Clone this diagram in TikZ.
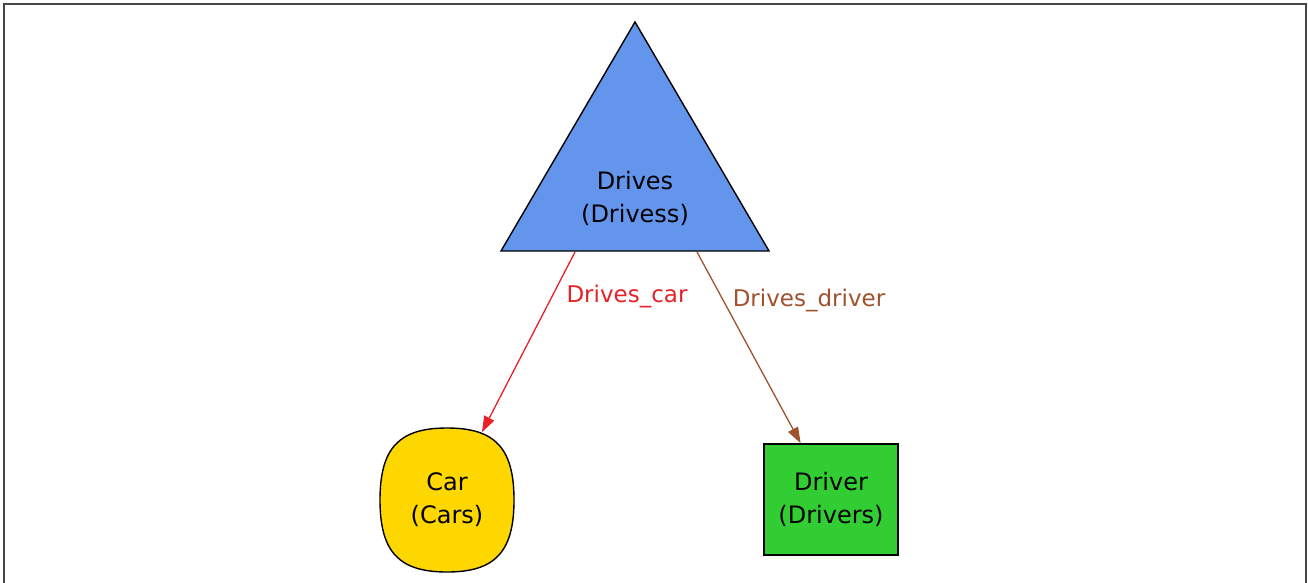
\documentclass[tikz,border=0pt]{standalone}
\usepackage{fontspec}
\setmainfont{DejaVu Sans}
\usetikzlibrary{arrows.meta}
\definecolor{triblue}{RGB}{100,149,237}
\definecolor{cargold}{RGB}{255,215,0}
\definecolor{drvgreen}{RGB}{50,205,50}
\definecolor{edgered}{RGB}{232,32,40}
\definecolor{edgebrown}{RGB}{160,82,45}
\definecolor{framegray}{RGB}{70,70,70}
\begin{document}
\begin{tikzpicture}[x=1pt,y=-1pt,
  lbl/.style={font=\fontsize{24}{33}\selectfont, align=center, inner sep=0pt},
  entity/.style={draw=black, line width=1.4pt, lbl},
  shapeline/.style={draw=black, line width=1.4pt},
  conn/.style={line width=1.3pt, -{Triangle[length=16pt,width=11pt]}},
  elabel/.style={font=\fontsize{23}{28}\selectfont, inner sep=0pt}]
\useasboundingbox (0,0) rectangle (1308,583);
% frame
\draw[framegray, line width=2pt] (4,584) -- (4,4.5) -- (1306,4.5) -- (1306,584);
% relationship triangle
\draw[shapeline, fill=triblue, line join=miter] (501,251) -- (635,22) -- (769,251) -- cycle;
\coordinate (d1) at (575,252);
\coordinate (d2) at (697,252);
\node[lbl] (drives) at (635,198.5) {Drives\\(Drivess)};
% entity Car: squircle outline
\draw[shapeline, fill=cargold]
  (447,428) .. controls (495,428) and (514,448) .. (514,500)
            .. controls (514,552) and (495,572) .. (447,572)
            .. controls (399,572) and (380,552) .. (380,500)
            .. controls (380,448) and (399,428) .. (447,428) -- cycle;
\node[lbl, minimum width=134pt, minimum height=144pt] (car) at (447,500) {Car\\(Cars)};
% entity Driver
\node[entity, fill=drvgreen, minimum width=134pt, minimum height=111pt] (driver) at (831,499.5) {Driver\\(Drivers)};
% connectors
\draw[conn, edgered, shorten >=-5pt] (d1) -- (car);
\draw[conn, edgebrown] (d2) -- (driver);
\node[elabel, text=edgered] (l1) at (627,296.5) {Drives\_car};
\node[elabel, text=edgebrown] (l2) at (809,300) {Drives\_driver};
\end{tikzpicture}
\end{document}
